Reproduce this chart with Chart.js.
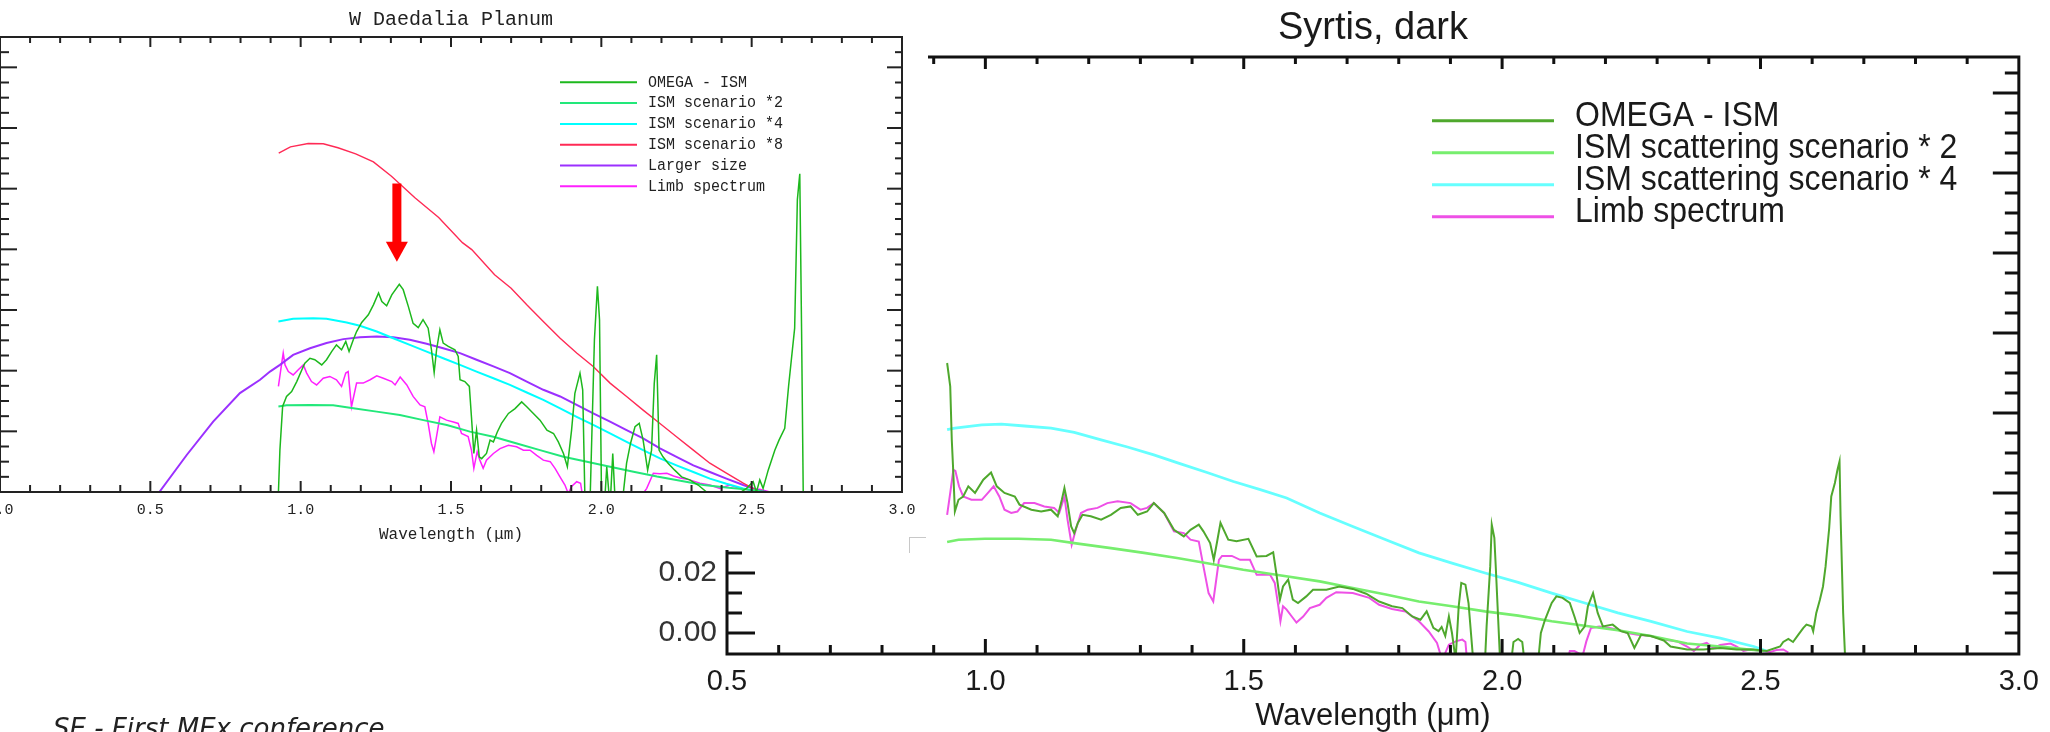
<!DOCTYPE html>
<html><head><meta charset="utf-8">
<script src="https://cdn.jsdelivr.net/npm/chart.js@4/dist/chart.umd.min.js"></script>
<style>
html,body{margin:0;padding:0;background:#fff;width:2050px;height:732px;overflow:hidden;position:relative}
#syrtis{position:absolute;left:0;top:0}
#daedalia{position:absolute;left:-100px;top:0;background:#fff}
#corner{position:absolute;left:909px;top:537px;width:16px;height:15px;border-top:1px solid #c8c8c8;border-left:1px solid #c8c8c8}
#footer{position:absolute;left:53px;top:715px;font-family:"DejaVu Sans";font-style:italic;font-size:26px;line-height:26px;color:#222;white-space:nowrap}
</style></head>
<body>
<canvas id="syrtis" width="2050" height="732"></canvas>
<canvas id="daedalia" width="1028" height="550"></canvas>
<div id="corner"></div>
<div id="footer">SE - First MEx conference</div>
<script>
// ---------------- W Daedalia Planum (left) : [wavelength µm, signal (scaled units)] ----------------
const daedaliaTitle = 'W Daedalia Planum';
const daedaliaLabels = ['OMEGA - ISM', 'ISM scenario *2', 'ISM scenario *4', 'ISM scenario *8', 'Larger size', 'Limb spectrum'];
const daedaliaXTicks = [0, 0.5, 1.0, 1.5, 2.0, 2.5, 3.0];

const daedaliaOmega = [[0.925,-0.3],[0.931,1.39],[0.940,2.82],[0.953,3.15],[0.970,3.31],[0.987,3.64],[1.004,4.03],[1.014,4.25],[1.031,4.41],[1.047,4.36],[1.070,4.19],[1.086,4.36],[1.103,4.63],[1.119,4.85],[1.136,4.69],[1.150,4.96],[1.161,4.63],[1.175,5.02],[1.186,5.29],[1.203,5.59],[1.225,5.84],[1.242,6.17],[1.259,6.56],[1.270,6.28],[1.286,6.14],[1.303,6.50],[1.328,6.85],[1.341,6.67],[1.358,6.12],[1.374,5.56],[1.391,5.42],[1.407,5.68],[1.424,5.40],[1.435,4.69],[1.444,3.94],[1.452,4.69],[1.463,5.35],[1.474,4.91],[1.491,4.80],[1.513,4.69],[1.524,4.47],[1.530,3.70],[1.546,3.64],[1.561,3.48],[1.568,2.48],[1.576,1.27],[1.585,2.04],[1.594,1.16],[1.602,1.10],[1.618,1.27],[1.630,1.71],[1.641,1.65],[1.654,1.98],[1.668,2.26],[1.691,2.59],[1.713,2.75],[1.735,2.97],[1.752,2.81],[1.774,2.59],[1.796,2.37],[1.819,2.04],[1.841,1.93],[1.857,1.65],[1.874,1.27],[1.887,0.83],[1.901,2.04],[1.912,3.25],[1.929,3.92],[1.938,3.37],[1.946,-0.5],[1.962,-0.5],[1.977,5.02],[1.987,6.78],[1.994,5.68],[2.001,-0.5],[2.010,-0.5],[2.018,0.83],[2.029,-0.5],[2.038,1.27],[2.046,-0.3],[2.068,-0.5],[2.084,0.95],[2.097,1.60],[2.112,2.15],[2.126,2.26],[2.139,1.71],[2.154,0.72],[2.167,1.38],[2.176,3.58],[2.184,4.52],[2.192,1.38],[2.205,1.16],[2.222,0.95],[2.244,0.72],[2.267,0.50],[2.294,0.40],[2.322,0.23],[2.350,0.0],[2.383,-0.1],[2.416,0.0],[2.449,-0.1],[2.483,0.12],[2.505,0.34],[2.516,0.0],[2.527,0.40],[2.538,0.12],[2.555,0.72],[2.577,1.38],[2.591,1.71],[2.610,2.10],[2.623,3.51],[2.643,5.40],[2.652,9.64],[2.660,10.49],[2.666,5.34],[2.672,-0.5]];
const daedaliaScen2 = [[0.926,2.82],[0.953,2.86],[1.031,2.87],[1.108,2.86],[1.175,2.76],[1.253,2.65],[1.330,2.54],[1.408,2.37],[1.486,2.21],[1.563,1.99],[1.641,1.82],[1.719,1.60],[1.796,1.38],[1.874,1.16],[1.952,1.00],[2.029,0.83],[2.107,0.67],[2.185,0.51],[2.263,0.37],[2.340,0.23],[2.416,0.15],[2.494,0.07],[2.550,0.0]];
const daedaliaScen4 = [[0.926,5.62],[0.975,5.71],[1.042,5.73],[1.086,5.71],[1.153,5.59],[1.197,5.48],[1.253,5.29],[1.308,5.07],[1.363,4.85],[1.419,4.63],[1.474,4.41],[1.530,4.19],[1.585,3.97],[1.641,3.75],[1.696,3.53],[1.752,3.28],[1.807,3.04],[1.863,2.76],[1.918,2.48],[1.973,2.21],[2.029,1.93],[2.084,1.65],[2.139,1.38],[2.195,1.11],[2.250,0.88],[2.306,0.66],[2.361,0.44],[2.416,0.27],[2.472,0.12],[2.527,0.01],[2.550,0.0]];
const daedaliaScen8 = [[0.927,11.17],[0.966,11.38],[1.025,11.49],[1.075,11.48],[1.124,11.35],[1.183,11.15],[1.242,10.88],[1.302,10.41],[1.380,9.70],[1.459,9.05],[1.538,8.22],[1.569,7.99],[1.645,7.16],[1.700,6.72],[1.752,6.17],[1.807,5.62],[1.863,5.07],[1.918,4.58],[1.973,4.14],[2.029,3.59],[2.084,3.15],[2.139,2.70],[2.195,2.26],[2.250,1.82],[2.306,1.38],[2.361,0.95],[2.416,0.62],[2.472,0.29],[2.527,0.0]];
const daedaliaLarger = [[0.530,0.0],[0.621,1.22],[0.709,2.32],[0.798,3.26],[0.865,3.70],[0.898,3.97],[0.931,4.19],[0.975,4.52],[1.031,4.74],[1.086,4.91],[1.142,5.04],[1.197,5.10],[1.253,5.13],[1.308,5.10],[1.363,5.02],[1.419,4.89],[1.474,4.74],[1.530,4.58],[1.585,4.36],[1.641,4.14],[1.696,3.92],[1.752,3.64],[1.807,3.37],[1.863,3.15],[1.918,2.87],[1.973,2.59],[2.029,2.32],[2.084,2.04],[2.139,1.77],[2.195,1.44],[2.250,1.16],[2.306,0.88],[2.361,0.66],[2.416,0.44],[2.472,0.23],[2.527,0.04],[2.550,0.0]];
const daedaliaLimb = [[0.926,3.48],[0.937,4.25],[0.942,4.58],[0.948,4.19],[0.959,3.97],[0.975,3.86],[0.992,4.03],[1.009,4.19],[1.020,3.92],[1.036,3.64],[1.053,3.53],[1.075,3.75],[1.097,3.81],[1.119,3.70],[1.136,3.48],[1.150,3.92],[1.158,3.97],[1.169,2.81],[1.186,3.59],[1.208,3.59],[1.231,3.70],[1.253,3.83],[1.275,3.75],[1.303,3.64],[1.314,3.53],[1.331,3.79],[1.353,3.53],[1.374,3.15],[1.397,2.87],[1.413,2.81],[1.424,2.26],[1.435,1.60],[1.443,1.33],[1.452,1.83],[1.463,2.48],[1.485,2.37],[1.508,2.31],[1.524,2.26],[1.535,1.93],[1.557,1.83],[1.568,1.38],[1.576,0.78],[1.587,1.33],[1.596,1.05],[1.607,0.78],[1.618,1.05],[1.641,1.27],[1.663,1.43],[1.691,1.54],[1.718,1.49],[1.741,1.38],[1.763,1.38],[1.785,1.21],[1.807,1.05],[1.830,1.00],[1.846,0.78],[1.862,0.51],[1.879,0.23],[1.890,-0.05],[1.901,0.18],[1.918,0.34],[1.931,0.29],[1.940,-0.3],[2.000,-0.4],[2.100,-0.4],[2.139,-0.05],[2.151,0.12],[2.173,0.62],[2.195,0.60],[2.218,0.62],[2.240,0.53],[2.262,0.46],[2.294,0.40],[2.328,0.29],[2.361,0.23],[2.394,0.12],[2.427,0.23],[2.460,0.12],[2.494,0.07],[2.527,0.09],[2.561,0.0]];
// red arrow annotation (data space)
const daedaliaArrow = { x: 1.32, top: 10.17, headBase: 8.25, tip: 7.59 };

// ---------------- Syrtis, dark (right) : [wavelength µm, signal] ----------------
const syrtisTitle = 'Syrtis, dark';
const syrtisLabels = ['OMEGA - ISM', 'ISM scattering scenario * 2', 'ISM scattering scenario * 4', 'Limb spectrum'];
const syrtisXTicks = [0.5, 1.0, 1.5, 2.0, 2.5, 3.0];
const syrtisYTicks = [0.00, 0.02, 0.04, 0.06, 0.08, 0.10, 0.12, 0.14, 0.16, 0.18];

const syrtisOmega = [[0.926,0.0900],[0.932,0.0822],[0.935,0.0644],[0.938,0.0533],[0.941,0.0405],[0.948,0.0444],[0.957,0.0455],[0.967,0.0489],[0.980,0.0467],[0.996,0.0511],[1.011,0.0535],[1.022,0.0489],[1.037,0.0467],[1.057,0.0455],[1.066,0.0428],[1.089,0.0411],[1.108,0.0405],[1.127,0.0411],[1.140,0.0389],[1.148,0.0444],[1.153,0.0483],[1.159,0.0433],[1.166,0.0355],[1.172,0.0333],[1.179,0.0367],[1.188,0.0394],[1.204,0.0389],[1.224,0.0378],[1.243,0.0394],[1.262,0.0417],[1.281,0.0422],[1.295,0.0394],[1.313,0.0405],[1.326,0.0433],[1.346,0.0400],[1.365,0.0344],[1.384,0.0322],[1.397,0.0344],[1.413,0.0361],[1.422,0.0339],[1.435,0.0300],[1.442,0.0244],[1.448,0.0300],[1.455,0.0367],[1.470,0.0311],[1.486,0.0306],[1.509,0.0314],[1.525,0.0255],[1.544,0.0257],[1.557,0.0269],[1.563,0.0200],[1.570,0.0111],[1.576,0.0155],[1.586,0.0178],[1.595,0.0111],[1.605,0.0100],[1.621,0.0122],[1.634,0.0144],[1.660,0.0144],[1.685,0.0155],[1.711,0.0147],[1.737,0.0131],[1.762,0.0105],[1.787,0.0089],[1.807,0.0083],[1.826,0.0055],[1.842,0.0044],[1.854,0.0072],[1.867,0.0017],[1.877,0.0006],[1.883,0.0020],[1.890,-0.0010],[1.897,0.0055],[1.903,0.0000],[1.910,-0.0090],[1.916,0.0089],[1.921,0.0167],[1.929,0.0161],[1.935,0.0100],[1.944,-0.0090],[1.967,-0.0090],[1.970,0.0022],[1.977,0.0222],[1.980,0.0361],[1.985,0.0317],[1.988,0.0211],[1.996,-0.0090],[2.018,-0.0090],[2.022,-0.0030],[2.031,-0.0020],[2.039,-0.0030],[2.043,-0.0090],[2.070,-0.0090],[2.075,0.0000],[2.083,0.0044],[2.096,0.0100],[2.105,0.0122],[2.117,0.0117],[2.131,0.0100],[2.140,0.0055],[2.150,0.0000],[2.160,0.0022],[2.166,0.0089],[2.176,0.0133],[2.185,0.0067],[2.195,0.0022],[2.214,0.0028],[2.230,0.0006],[2.243,0.0000],[2.256,-0.0050],[2.269,-0.0006],[2.288,-0.0010],[2.313,-0.0025],[2.326,-0.0045],[2.358,-0.0055],[2.390,-0.0055],[2.422,-0.0050],[2.454,-0.0055],[2.487,-0.0055],[2.512,-0.0060],[2.538,-0.0045],[2.544,-0.0030],[2.554,-0.0020],[2.563,-0.0030],[2.573,-0.0006],[2.583,0.0017],[2.589,0.0028],[2.599,0.0022],[2.602,0.0006],[2.608,0.0067],[2.615,0.0111],[2.621,0.0155],[2.626,0.0222],[2.633,0.0350],[2.637,0.0455],[2.644,0.0500],[2.649,0.0544],[2.653,0.0572],[2.655,0.0389],[2.660,0.0067],[2.664,-0.0090]];
const syrtisScen2 = [[0.926,0.0303],[0.948,0.0311],[0.999,0.0314],[1.064,0.0314],[1.127,0.0311],[1.179,0.0298],[1.243,0.0283],[1.307,0.0267],[1.371,0.0250],[1.435,0.0231],[1.499,0.0211],[1.563,0.0194],[1.647,0.0172],[1.711,0.0150],[1.775,0.0128],[1.839,0.0105],[1.903,0.0089],[1.967,0.0072],[2.031,0.0058],[2.096,0.0039],[2.160,0.0024],[2.224,0.0009],[2.288,-0.0010],[2.358,-0.0035],[2.422,-0.0045],[2.506,-0.0060]];
const syrtisScen4 = [[0.926,0.0678],[0.941,0.0683],[0.993,0.0694],[1.031,0.0696],[1.076,0.0690],[1.127,0.0683],[1.172,0.0669],[1.224,0.0644],[1.275,0.0620],[1.326,0.0594],[1.378,0.0564],[1.429,0.0535],[1.480,0.0505],[1.532,0.0478],[1.583,0.0450],[1.647,0.0400],[1.711,0.0355],[1.775,0.0311],[1.839,0.0267],[1.903,0.0233],[1.967,0.0200],[2.031,0.0169],[2.096,0.0133],[2.160,0.0100],[2.224,0.0067],[2.288,0.0039],[2.358,0.0005],[2.422,-0.0017],[2.487,-0.0045],[2.512,-0.0060]];
const syrtisLimb = [[0.926,0.0394],[0.932,0.0467],[0.938,0.0544],[0.942,0.0540],[0.949,0.0489],[0.957,0.0455],[0.973,0.0444],[0.993,0.0444],[1.005,0.0467],[1.016,0.0489],[1.027,0.0455],[1.037,0.0411],[1.050,0.0400],[1.062,0.0405],[1.075,0.0433],[1.095,0.0433],[1.114,0.0422],[1.133,0.0417],[1.143,0.0400],[1.153,0.0455],[1.159,0.0378],[1.167,0.0294],[1.175,0.0344],[1.185,0.0400],[1.198,0.0411],[1.217,0.0417],[1.236,0.0433],[1.256,0.0439],[1.281,0.0433],[1.300,0.0411],[1.313,0.0417],[1.326,0.0433],[1.346,0.0400],[1.365,0.0339],[1.384,0.0333],[1.397,0.0311],[1.413,0.0305],[1.422,0.0222],[1.432,0.0133],[1.441,0.0105],[1.445,0.0155],[1.452,0.0244],[1.458,0.0257],[1.477,0.0257],[1.493,0.0244],[1.512,0.0244],[1.525,0.0194],[1.551,0.0194],[1.560,0.0167],[1.567,0.0089],[1.571,0.0039],[1.576,0.0089],[1.583,0.0078],[1.593,0.0055],[1.602,0.0035],[1.615,0.0055],[1.628,0.0083],[1.647,0.0094],[1.660,0.0117],[1.679,0.0136],[1.711,0.0133],[1.743,0.0117],[1.762,0.0094],[1.787,0.0080],[1.813,0.0072],[1.839,0.0039],[1.858,0.0005],[1.874,-0.0033],[1.884,-0.0090],[1.897,-0.0039],[1.910,-0.0028],[1.923,-0.0022],[1.929,-0.0030],[1.932,-0.0090],[2.127,-0.0090],[2.131,-0.0060],[2.140,-0.0060],[2.156,-0.0075],[2.163,-0.0028],[2.172,0.0017],[2.188,0.0022],[2.208,0.0017],[2.224,0.0011],[2.243,0.0000],[2.262,-0.0006],[2.288,-0.0010],[2.313,-0.0022],[2.339,-0.0028],[2.358,-0.0045],[2.371,-0.0060],[2.383,-0.0040],[2.396,-0.0033],[2.409,-0.0050],[2.422,-0.0040],[2.442,-0.0035],[2.454,-0.0045],[2.467,-0.0060],[2.480,-0.0055],[2.519,-0.0063],[2.531,-0.0057],[2.544,-0.0055],[2.554,-0.0065]];

// ---------------- helpers / plugins ----------------
const toXY = arr => arr.map(p => ({ x: p[0], y: p[1] }));

function drawTickSet(ctx, scale, spec, side, area) {
  const eps = 1e-6;
  const n0 = Math.ceil((scale.min - spec.anchor) / spec.step - eps);
  const n1 = Math.floor((scale.max - spec.anchor) / spec.step + eps);
  for (let n = n0; n <= n1; n++) {
    const v = spec.anchor + n * spec.step;
    const p = scale.getPixelForValue(v);
    const horiz = side === 'top' || side === 'bottom';
    if (horiz && (p < area.left + 2 || p > area.right - 2)) continue;
    if (!horiz && (p < area.top + 2 || p > area.bottom - 2)) continue;
    const len = (((n % spec.every) + spec.every) % spec.every === 0) ? spec.major : spec.minor;
    ctx.beginPath();
    if (side === 'bottom') { ctx.moveTo(p, area.bottom); ctx.lineTo(p, area.bottom - len); }
    if (side === 'top') { ctx.moveTo(p, area.top); ctx.lineTo(p, area.top + len); }
    if (side === 'left') { ctx.moveTo(area.left, p); ctx.lineTo(area.left + len, p); }
    if (side === 'right') { ctx.moveTo(area.right, p); ctx.lineTo(area.right - len, p); }
    ctx.stroke();
  }
}

const idlFrame = {
  id: 'idlFrame',
  afterDatasetsDraw(chart, args, o) {
    const { ctx, chartArea: a } = chart;
    const xs = chart.scales.x, ys = chart.scales.y;
    ctx.save();
    ctx.strokeStyle = o.color;
    ctx.lineWidth = o.tickWidth;
    drawTickSet(ctx, xs, o.xTop, 'top', a);
    drawTickSet(ctx, xs, o.xBottom, 'bottom', a);
    drawTickSet(ctx, ys, o.yLeft, 'left', a);
    drawTickSet(ctx, ys, o.yRight, 'right', a);
    ctx.lineWidth = o.frameWidth;
    ctx.strokeRect(a.left, a.top, a.right - a.left, a.bottom - a.top);
    ctx.restore();
  }
};

const idlLegend = {
  id: 'idlLegend',
  afterDraw(chart, args, o) {
    const { ctx, chartArea: a } = chart;
    ctx.save();
    ctx.font = o.font;
    ctx.textBaseline = 'middle';
    ctx.textAlign = 'left';
    chart.data.datasets.forEach((ds, i) => {
      const y = a.top + o.top + i * o.dy;
      ctx.strokeStyle = ds.borderColor;
      ctx.lineWidth = o.lineWidth;
      ctx.beginPath();
      ctx.moveTo(a.left + o.x0, y);
      ctx.lineTo(a.left + o.x1, y);
      ctx.stroke();
      ctx.fillStyle = o.color;
      ctx.save();
      ctx.translate(a.left + o.textX, y + o.textDy);
      ctx.scale(1, o.stretch || 1);
      ctx.fillText(ds.label, 0, 0);
      ctx.restore();
    });
    ctx.restore();
  }
};

const arrowPlugin = {
  id: 'arrowPlugin',
  afterDraw(chart, args, o) {
    if (!o.arrow) return;
    const { ctx } = chart;
    const xs = chart.scales.x, ys = chart.scales.y;
    const xp = xs.getPixelForValue(o.arrow.x);
    const yTop = ys.getPixelForValue(o.arrow.top);
    const yBase = ys.getPixelForValue(o.arrow.headBase);
    const yTip = ys.getPixelForValue(o.arrow.tip);
    ctx.save();
    ctx.fillStyle = o.color;
    ctx.fillRect(xp - o.shaft / 2, yTop, o.shaft, yBase - yTop + 1);
    ctx.beginPath();
    ctx.moveTo(xp - o.head / 2, yBase);
    ctx.lineTo(xp + o.head / 2, yBase);
    ctx.lineTo(xp, yTip);
    ctx.closePath();
    ctx.fill();
    ctx.restore();
  }
};

function line(label, data, color, width) {
  return { label, data: toXY(data), borderColor: color, backgroundColor: color, borderWidth: width,
           pointRadius: 0, fill: false, tension: 0, clip: 0 };
}

// ---------------- right chart: Syrtis, dark ----------------
const sansFont = '"Liberation Sans", Arial, sans-serif';
new Chart(document.getElementById('syrtis'), {
  type: 'line',
  data: {
    datasets: [
      line(syrtisLabels[0], syrtisOmega, '#4fa82d', 2),
      line(syrtisLabels[1], syrtisScen2, '#77ee6e', 2.6),
      line(syrtisLabels[2], syrtisScen4, '#66ffff', 2.8),
      line(syrtisLabels[3], syrtisLimb, '#ee50e6', 2)
    ]
  },
  options: {
    responsive: false, animation: false, events: [], devicePixelRatio: 1,
    layout: { padding: { left: 627, right: 25, top: 0, bottom: 0 } },
    scales: {
      x: {
        type: 'linear', min: 0.5, max: 3.0,
        grid: { display: false, drawTicks: false }, border: { display: false },
        afterBuildTicks: s => { s.ticks = syrtisXTicks.map(v => ({ value: v })); },
        afterFit: s => { s.height = 78; },
        ticks: { autoSkip: false, maxRotation: 0, padding: 11, color: '#1a1a1a',
                 font: { family: sansFont, size: 29 }, callback: v => Number(v).toFixed(1) },
        title: { display: true, text: 'Wavelength (μm)', color: '#1a1a1a',
                 font: { family: sansFont, size: 31, lineHeight: 1.0 }, padding: { top: 0, bottom: 0 } }
      },
      y: {
        type: 'linear', min: -0.007, max: 0.192, position: 'left',
        grid: { display: false, drawTicks: false }, border: { display: false },
        afterBuildTicks: s => { s.ticks = syrtisYTicks.map(v => ({ value: v })); },
        afterFit: s => { s.width = 100; },
        ticks: { autoSkip: false, padding: 10, color: '#333',
                 font: { family: sansFont, size: 30 }, callback: v => Number(v).toFixed(2) }
      }
    },
    plugins: {
      legend: { display: false }, tooltip: { enabled: false },
      title: { display: true, text: syrtisTitle, fullSize: false, color: '#1a1a1a',
               font: { family: sansFont, size: 38, weight: 'normal', lineHeight: 1.2 },
               padding: { top: 6, bottom: 5.4 } },
      idlFrame: {
        color: '#111', tickWidth: 3, frameWidth: 3,
        xTop: { step: 0.1, every: 5, anchor: 0.5, major: 12, minor: 7 },
        xBottom: { step: 0.1, every: 5, anchor: 0.5, major: 15, minor: 9 },
        yLeft: { step: 0.02 / 3, every: 3, anchor: 0, major: 28, minor: 15 },
        yRight: { step: 0.02 / 3, every: 4, anchor: 0.02, major: 26, minor: 14 }
      },
      idlLegend: { font: '32px ' + sansFont, color: '#1a1a1a', lineWidth: 3, stretch: 1.08,
                   x0: 705, x1: 827, textX: 848, top: 63.7, dy: 32, textDy: -4 }
    }
  },
  plugins: [idlFrame, idlLegend]
});

// ---------------- left chart: W Daedalia Planum ----------------
const monoFont = '"Liberation Mono", "DejaVu Sans Mono", monospace';
new Chart(document.getElementById('daedalia'), {
  type: 'line',
  data: {
    datasets: [
      line(daedaliaLabels[0], daedaliaOmega, '#1db81d', 1.5),
      line(daedaliaLabels[1], daedaliaScen2, '#22e87a', 2),
      line(daedaliaLabels[2], daedaliaScen4, '#00ffff', 2),
      line(daedaliaLabels[3], daedaliaScen8, '#ff2a55', 1.4),
      line(daedaliaLabels[4], daedaliaLarger, '#9b30ff', 2),
      line(daedaliaLabels[5], daedaliaLimb, '#ff20ff', 1.5)
    ]
  },
  options: {
    responsive: false, animation: false, events: [], devicePixelRatio: 1,
    layout: { padding: { left: 100, right: 26, top: 0, bottom: 0 } },
    scales: {
      x: {
        type: 'linear', min: 0, max: 3.0,
        grid: { display: false, drawTicks: false }, border: { display: false },
        afterBuildTicks: s => { s.ticks = daedaliaXTicks.map(v => ({ value: v })); },
        afterFit: s => { s.height = 58; },
        ticks: { autoSkip: false, maxRotation: 0, padding: 9, color: '#222',
                 font: { family: monoFont, size: 15 }, callback: v => Number(v).toFixed(1) },
        title: { display: true, text: 'Wavelength (μm)', color: '#222',
                 font: { family: monoFont, size: 16, lineHeight: 1.2 }, padding: { top: 0, bottom: 6 } }
      },
      y: { type: 'linear', min: 0, max: 15, display: false }
    },
    plugins: {
      legend: { display: false }, tooltip: { enabled: false },
      title: { display: true, text: daedaliaTitle, fullSize: false, color: '#222',
               font: { family: monoFont, size: 20, weight: 'normal', lineHeight: 1.2 },
               padding: { top: 8, bottom: 5 } },
      idlFrame: {
        color: '#222', tickWidth: 2, frameWidth: 2,
        xTop: { step: 0.1, every: 5, anchor: 0, major: 10, minor: 6 },
        xBottom: { step: 0.1, every: 5, anchor: 0, major: 11, minor: 7 },
        yLeft: { step: 0.5, every: 4, anchor: 0, major: 17, minor: 9 },
        yRight: { step: 0.5, every: 4, anchor: 0, major: 15, minor: 7 }
      },
      idlLegend: { font: '15px ' + monoFont, color: '#222', lineWidth: 2, stretch: 1.1,
                   x0: 560, x1: 637, textX: 648, top: 45.3, dy: 20.8, textDy: 0 },
      arrowPlugin: { arrow: daedaliaArrow, color: '#ff0000', shaft: 9, head: 22 }
    }
  },
  plugins: [idlFrame, idlLegend, arrowPlugin]
});
</script>
</body></html>
